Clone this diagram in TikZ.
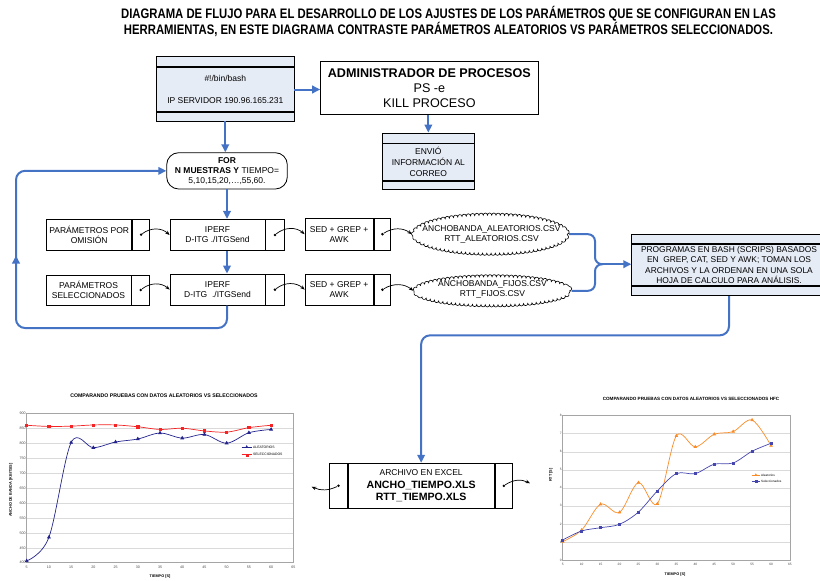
\documentclass[tikz,border=0pt]{standalone}
\usepackage{fontspec}
\setmainfont{Liberation Sans}
\newfontfamily\narrowsans[FakeStretch=0.82]{Liberation Sans}
\usetikzlibrary{arrows.meta,shapes.geometric,plotmarks,decorations.markings,decorations.pathmorphing}

\definecolor{panelfill}{RGB}{230,236,246}
\definecolor{flowblue}{RGB}{68,114,196}
\definecolor{gridgray}{RGB}{218,218,218}
\definecolor{axisgray}{RGB}{165,165,165}
\definecolor{ticktext}{RGB}{70,70,70}
\definecolor{serred}{RGB}{245,35,35}
\definecolor{sernavy}{RGB}{35,35,140}
\definecolor{serorange}{RGB}{250,140,40}
\definecolor{serblue}{RGB}{70,70,175}

\tikzset{
  box/.style={draw=black, line width=0.8pt, inner sep=0pt, align=center,
              font=\fontsize{8.5}{10}\selectfont},
  panel/.style={box, fill=panelfill},
  cell/.style={draw=black, line width=0.8pt, inner sep=0pt},
  dotpt/.style={circle, fill=black, inner sep=0pt, minimum size=2.8pt},
  flowline/.style={draw=flowblue, line width=2pt},
  flow/.style={flowline, -{Triangle[length=8pt,width=7.5pt]}},
  link/.style={draw=black, line width=0.7pt, -{Stealth[length=4.5pt,width=3.5pt]}},
  csv/.style={ellipse, inner sep=0pt, align=center, font=\fontsize{8.5}{10}\selectfont},
  cloudline/.style={draw=black, line width=0.6pt,
              decorate, decoration={bumps, mirror, segment length=8.5pt, amplitude=2.2pt}},
  gridln/.style={draw=gridgray, line width=0.5pt},
  axln/.style={draw=axisgray, line width=0.5pt},
  ticklbl/.style={font=\fontsize{3.6}{4}\selectfont, text=ticktext, inner sep=0.8pt},
  charttitle/.style={font=\bfseries\fontsize{5.2}{6}\selectfont, inner sep=0pt},
  axislbl/.style={font=\bfseries\fontsize{3.8}{4.5}\selectfont, inner sep=0pt},
  legendlbl/.style={font=\fontsize{3.4}{4}\selectfont, anchor=west, inner sep=0.5pt},
}

\begin{document}
\begin{tikzpicture}[x=1pt,y=1pt]
\useasboundingbox (0,0) rectangle (820,-581);

% ---------- heading ----------
\node[font=\narrowsans\bfseries\fontsize{13.8}{14.5}\selectfont, align=center, inner sep=0pt]
  (heading) at (448.5,-21)
  {DIAGRAMA DE FLUJO PARA EL DESARROLLO DE LOS AJUSTES DE LOS PARÁMETROS QUE SE CONFIGURAN EN LAS\\
   HERRAMIENTAS, EN ESTE DIAGRAMA CONTRASTE PARÁMETROS ALEATORIOS VS PARÁMETROS SELECCIONADOS.};

% ---------- script header ----------
\node[panel, minimum width=137.3, minimum height=10.7] (bashtop) at (225.3,-61.35) {};
\node[panel, minimum width=137.3, minimum height=44, anchor=north] (bash) at (bashtop.south)
  {\#!/bin/bash\\[12.3pt]IP SERVIDOR 190.96.165.231};
\node[panel, minimum width=137.3, minimum height=8.6, anchor=north] (bashbot) at (bash.south) {};

% ---------- process manager ----------
\node[box, line width=1pt, minimum width=217.3, minimum height=52.6, fill=white,
      font=\fontsize{12.6}{15.3}\selectfont] (admin) at (429.35,-88)
  {\textbf{ADMINISTRADOR DE PROCESOS}\\PS -e\\KILL PROCESO};

% ---------- mail ----------
\node[panel, minimum width=91.3, minimum height=10] (envtop) at (428.35,-138) {};
\node[panel, minimum width=91.3, minimum height=37, anchor=north,
      font=\fontsize{8.5}{11}\selectfont] (envio) at (envtop.south)
  {ENVIÓ\\INFORMACIÓN AL\\CORREO};
\node[panel, minimum width=91.3, minimum height=8, anchor=north] (envbot) at (envio.south) {};

% ---------- loop ----------
\node[box, rounded corners=12, minimum width=120.6, minimum height=36.3, fill=white]
  (for) at (227,-170.85)
  {\textbf{FOR}\\\textbf{N MUESTRAS Y} TIEMPO=\\5,10,15,20,…,55,60.};

% ---------- row 1 ----------
\node[box, minimum width=85, minimum height=30.7] (omis) at (89.2,-234.65) {PARÁMETROS POR\\OMISIÓN};
\node[cell, minimum width=17.3, minimum height=30.7, anchor=west] (omisc) at (omis.east) {};
\node[box, minimum width=95, minimum height=31.4] (iperfa) at (217.5,-235) {IPERF\\D-ITG ./ITGSend};
\node[cell, minimum width=18.3, minimum height=31.4, anchor=west] (iperfac) at (iperfa.east) {};
\node[box, minimum width=68.3, minimum height=31.7] (seda) at (339.15,-234.15) {SED + GREP +\\AWK};
\node[cell, minimum width=16.7, minimum height=31.7, anchor=west] (sedac) at (seda.east) {};
\node[csv, minimum width=153, minimum height=38] (csva) at (490.5,-234.2) {};
\draw[cloudline] (csva.center) ellipse [x radius=76.5, y radius=19];
\node[csv] (csvatext) at (491.5,-234.3) {ANCHOBANDA\_ALEATORIOS.CSV\\RTT\_ALEATORIOS.CSV};

% ---------- row 2 ----------
\node[box, minimum width=85, minimum height=30] (selec) at (88.5,-290) {PARÁMETROS\\SELECCIONADOS};
\node[cell, minimum width=18, minimum height=30, anchor=west] (selecc) at (selec.east) {};
\node[box, minimum width=95, minimum height=31.3] (iperfb) at (217.5,-289.65) {IPERF\\D-ITG\ \ ./ITGSend};
\node[cell, minimum width=18.3, minimum height=31.3, anchor=west] (iperfbc) at (iperfb.east) {};
\node[box, minimum width=68.3, minimum height=31.3] (sedb) at (339.15,-289.65) {SED + GREP +\\AWK};
\node[cell, minimum width=16.7, minimum height=31.3, anchor=west] (sedbc) at (sedb.east) {};
\node[csv, minimum width=154, minimum height=28] (csvb) at (492.5,-290.8) {};
\draw[cloudline] (csvb.center) ellipse [x radius=77, y radius=14];
\node[csv] (csvbtext) at (492.5,-289.5) {ANCHOBANDA\_FIJOS.CSV\\RTT\_FIJOS.CSV};

% ---------- report scripts ----------
\node[panel, minimum width=194.6, minimum height=9.3] (progtop) at (729,-238.65) {};
\node[panel, minimum width=194.6, minimum height=41.7, anchor=north,
      font=\fontsize{8.4}{10.3}\selectfont] (prog) at (progtop.south)
  {PROGRAMAS EN BASH (SCRIPS) BASADOS\\EN\ \ GREP, CAT, SED Y AWK; TOMAN LOS\\
   ARCHIVOS Y LA ORDENAN EN UNA SOLA\\HOJA DE CALCULO PARA ANÁLISIS.};
\node[panel, minimum width=194.6, minimum height=9, anchor=north] (progbot) at (prog.south) {};

% ---------- spreadsheet ----------
\node[box, line width=1pt, minimum width=145.7, minimum height=45,
      font=\bfseries\fontsize{10.6}{12.4}\selectfont] (excel) at (421.15,-485.8)
  {{\mdseries\fontsize{8.5}{11}\selectfont ARCHIVO EN EXCEL}\\ANCHO\_TIEMPO.XLS\\RTT\_TIEMPO.XLS};
\node[cell, line width=1pt, minimum width=17.6, minimum height=45, anchor=east] (excell) at (excel.west) {};
\node[cell, line width=1pt, minimum width=17.7, minimum height=45, anchor=west] (excelr) at (excel.east) {};

% ---------- dots in the side cells ----------
\foreach \c in {omisc,iperfac,sedac,selecc,iperfbc,sedbc,excell,excelr}
  \node[dotpt] (\c d) at (\c.center) {};

% ---------- thin links ----------
\draw[link] (omiscd) to[bend left=40] (iperfa.west);
\draw[link] (iperfacd) to[bend left=40] (seda.west);
\draw[link] (sedacd) to[bend left=35] ([xshift=-2pt]csva.west);
\draw[link] (seleccd) to[bend left=40] (iperfb.west);
\draw[link] (iperfbcd) to[bend left=40] (sedb.west);
\draw[link] (sedbcd) to[bend left=35] ([xshift=-2pt]csvb.west);
\coordinate (exoutl) at (311.7,-486.7);
\coordinate (exoutr) at (530,-483.3);
\draw[link] (excelld) to[bend left=25] (exoutl);
\draw[link] (excelrd) to[bend left=30] (exoutr);

% ---------- blue flow ----------
\draw[flow] (bash.east) -- (admin.west |- bash.east);
\draw[flow] (admin.south -| envtop.north) -- (envtop.north);
\draw[flow] (bashbot.south) -- (bashbot.south |- for.north);
\draw[flow] (for.south) -- (for.south |- iperfa.north);
\draw[flow] (for.south |- iperfa.south) -- (for.south |- iperfb.north);
\draw[flow, rounded corners=9,
      postaction={decorate, decoration={markings,
        mark=at position 298pt with {\arrow{Triangle[length=8pt,width=7.5pt,color=flowblue]}}}}]
  (for.south |- iperfb.south) |- (16,-328) |- (for.west);

% brace joining both result files
\coordinate (bj) at (603,-264.2);
\draw[flowline, rounded corners=7] ([xshift=2pt]csva.east) -- (595,-234.2) -- (595,-264.2) -- (bj);
\draw[flowline, rounded corners=7] ([xshift=2pt]csvb.east) -- (595,-290.8) -- (595,-264.2) -- (bj);
\draw[flow] (bj) -- (bj -| prog.west);

\draw[flow, rounded corners=9] (progbot.south) -- ++(0,-39.3) -| (excel.north);

% ---------- chart: bandwidth ----------
\node[charttitle] (bwtitle) at (164,-396) {COMPARANDO PRUEBAS CON DATOS ALEATORIOS VS SELECCIONADOS};
\node[axislbl, rotate=90] (bwylab) at (11,-490) {ANCHO DE BANDA [KBITS/S]};
\node[axislbl] (bwxlab) at (160,-577) {TIEMPO [S]};
\begin{scope}[shift={(26.7pt,-562.7pt)}, x=4.444pt, y=0.2988pt]
  \foreach \v in {50,100,...,450} \draw[gridln] (0,\v) -- (60,\v);
  \draw[axln] (0,0) rectangle (60,500);
  \foreach \v [evaluate=\v as \lab using int(\v+400)] in {0,50,...,500}
    \node[ticklbl, anchor=east] (bwy\lab) at (0,\v) {\lab};
  \foreach \t [evaluate=\t as \lab using int(\t+5)] in {0,5,...,60}
    \node[ticklbl, anchor=north] (bwx\lab) at (\t,-8) {\lab};
  \draw[serred, line width=0.7pt] plot[smooth, tension=0.55, mark=square*, mark size=1.1pt,
      mark options={fill=serred}] coordinates
    {(0,460) (5,456) (10,457) (15,461) (20,461) (25,455) (30,446) (35,450) (40,441) (45,437) (50,452) (55,460)};
  \draw[sernavy, line width=0.7pt] plot[smooth, tension=0.55, mark=triangle*, mark size=1.6pt,
      mark options={fill=sernavy}] coordinates
    {(0,6) (5,85) (10,402) (15,385) (20,404) (25,414) (30,434) (35,417) (40,429) (45,400) (50,435) (55,446)};
\end{scope}
\draw[sernavy, line width=0.6pt] (241.7,-447) -- (251.7,-447);
\draw[sernavy] plot[mark=triangle*, mark size=1.4pt, mark options={fill=sernavy}] coordinates {(246.7,-447)};
\node[legendlbl] (bwleg1) at (252.5,-447) {ALEATORIOS};
\draw[serred, line width=0.6pt] (241.7,-454.7) -- (251.7,-454.7);
\draw[serred] plot[mark=square*, mark size=1pt, mark options={fill=serred}] coordinates {(246.7,-454.7)};
\node[legendlbl] (bwleg2) at (252.5,-454.7) {SELECCIONADOS};

% ---------- chart: round trip time ----------
\node[charttitle, font=\bfseries\fontsize{4.6}{5.5}\selectfont] (rtttitle) at (691,-399)
  {COMPARANDO PRUEBAS CON DATOS ALEATORIOS VS SELECCIONADOS HFC};
\node[axislbl, rotate=90] (rttylab) at (551,-475) {RTT [S]};
\node[axislbl] (rttxlab) at (675,-574.3) {TIEMPO [S]};
\begin{scope}[shift={(562.7pt,-560pt)}, x=3.788pt, y=18.04pt]
  \foreach \v in {1,...,7} \draw[gridln] (0,\v) -- (60,\v);
  \draw[axln] (0,0) rectangle (60,8);
  \foreach \v in {0,...,8}
    \node[ticklbl, font=\fontsize{3.2}{4}\selectfont, anchor=east] (rtty\v) at (0,\v) {\v};
  \foreach \t [evaluate=\t as \lab using int(\t+5)] in {0,5,...,60}
    \node[ticklbl, font=\fontsize{3.2}{4}\selectfont, anchor=north] (rttx\lab) at (\t,-0.15) {\lab};
  \draw[serorange, line width=0.7pt] plot[smooth, tension=0.55, mark=triangle*, mark size=1.4pt,
      mark options={fill=serorange}] coordinates
    {(0,1.02) (5,1.66) (10,3.09) (15,2.64) (20,4.29) (25,3.12) (30,6.88) (35,6.27) (40,6.97) (45,7.12) (50,7.76) (55,6.34)};
  \draw[serblue, line width=0.7pt] plot[smooth, tension=0.55, mark=square*, mark size=1pt,
      mark options={fill=serblue}] coordinates
    {(0,1.11) (5,1.61) (10,1.79) (15,1.98) (20,2.66) (25,3.83) (30,4.79) (35,4.79) (40,5.31) (45,5.38) (50,6.03) (55,6.47)};
\end{scope}
\draw[serorange, line width=0.6pt] (751.7,-475) -- (760,-475);
\draw[serorange] plot[mark=triangle*, mark size=1.3pt, mark options={fill=serorange}] coordinates {(755.8,-475)};
\node[legendlbl, font=\fontsize{3.1}{4}\selectfont] (rttleg1) at (760.5,-475) {Aleatorios};
\draw[serblue, line width=0.6pt] (751.7,-481) -- (760,-481);
\draw[serblue] plot[mark=square*, mark size=0.9pt, mark options={fill=serblue}] coordinates {(755.8,-481)};
\node[legendlbl, font=\fontsize{3.1}{4}\selectfont] (rttleg2) at (760.5,-481) {Seleccionados};

\end{tikzpicture}
\end{document}
